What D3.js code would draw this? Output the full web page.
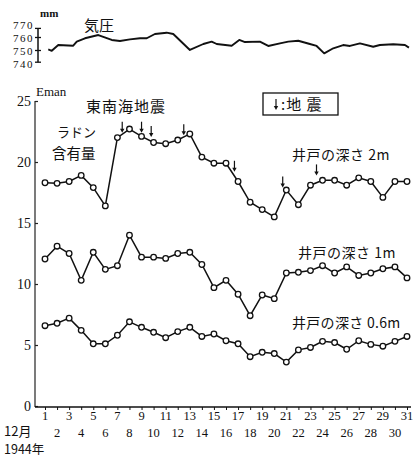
<!DOCTYPE html>
<html><head><meta charset="utf-8">
<script src="https://cdn.jsdelivr.net/npm/d3@7/dist/d3.min.js"></script>
<style>
body{margin:0;background:#fff;}
svg{display:block;}
</style></head>
<body>
<svg id="c" width="415" height="457"></svg>
<script>
const days = d3.range(1, 32);
const depth2m = [18.3,18.25,18.4,18.9,17.9,16.4,22.0,22.7,22.1,21.6,21.5,21.8,22.3,20.4,19.9,19.9,18.4,16.7,16.1,15.5,17.7,16.5,18.1,18.5,18.5,18.1,18.7,18.4,17.1,18.4,18.4];
const depth1m = [12.05,13.1,12.5,10.3,12.6,11.2,11.5,14.0,12.2,12.2,12.1,12.5,12.6,11.6,9.7,10.3,9.16,7.4,9.1,8.8,10.9,10.96,11.1,11.5,10.9,11.4,10.7,10.9,11.25,11.4,10.5];
const depth06m = [6.58,6.78,7.2,6.2,5.1,5.1,5.8,6.9,6.45,6.04,5.6,6.1,6.45,5.7,5.9,5.35,5.1,4.04,4.4,4.3,3.6,4.6,4.8,5.3,5.2,4.65,5.35,5.05,4.9,5.3,5.7];
const pressureDay = [1.27,1.56,2.10,3.34,3.63,4.31,5.42,6.53,7.21,8.04,8.87,9.43,10.11,11.08,11.63,13.01,14.12,14.81,15.23,16.47,17.10,17.57,18.81,19.5,20.47,21.16,21.99,22.95,23.51,24.14,24.89,25.71,26.27,27.1,28.2,28.75,29.86,30.83,31.16];
const pressureMm = [750.9,749.8,754.2,753.7,756.8,759.4,761.9,758.1,757.3,758.6,759.4,759.4,762.7,763.7,762.7,750.4,755,756.8,755,753.7,758.1,756.5,756.8,753.5,755.5,756.8,757.5,755,753.5,747.8,751.7,754.2,753.5,755.5,752.9,754.2,754.8,754.2,752.2];
const pressureTicks = [770,760,750,740];
const yTicks = [0,5,10,15,20,25];
const quakeDay = [7.4,9.0,9.8,12.5,16.7,20.7,23.5];
const quakeTip = [22.4,22.4,22.05,22.2,19.2,17.9,18.9];
const seriesLabels = ["井戸の深さ 2m","井戸の深さ 1m","井戸の深さ 0.6m"];

const SERIF = "Liberation Serif, DejaVu Serif, serif";
const JP = "Noto Sans CJK JP, Noto Sans CJK SC, sans-serif";

const svg = d3.select("#c");
const x = d3.scaleLinear().domain([1,31]).range([45,407]);
const y = d3.scaleLinear().domain([0,25]).range([406,101]);
const yp = d3.scaleLinear().domain([740,770]).range([63.5,24.5]);

function num(sel, size){ return sel.attr("font-family",SERIF).attr("font-size",size).attr("fill","#111"); }
function jp(sel, size){ return sel.attr("font-family",JP).attr("font-size",size).attr("fill","#111"); }

// pressure panel
svg.append("path").datum(pressureDay.map((d,i)=>[d,pressureMm[i]]))
  .attr("fill","none").attr("stroke","#111").attr("stroke-width",1.9).attr("stroke-linejoin","round")
  .attr("d", d3.line().x(d=>x(d[0])).y(d=>yp(d[1])));
const pa = svg.append("g");
pa.append("line").attr("x1",38).attr("x2",38).attr("y1",yp(767)).attr("y2",yp(741)).attr("stroke","#111").attr("stroke-width",1.5);
[767,760,750,741].forEach(v=>{
  pa.append("line").attr("x1",35).attr("x2",41).attr("y1",yp(v)).attr("y2",yp(v)).attr("stroke","#111").attr("stroke-width",1.3);
});
num(pa.selectAll("text.pt").data(pressureTicks).join("text")
  .attr("x",34).attr("y",d=>yp(d)+4).attr("text-anchor","end").attr("letter-spacing",1.5).text(d=>d), 11);
num(svg.append("text").attr("x",40).attr("y",17).attr("font-weight","bold").text("mm"), 11);
jp(svg.append("text").attr("x",84).attr("y",31).text("気圧"), 15);

// main axes
const gy = svg.append("g").attr("transform","translate(35,0)")
  .call(d3.axisLeft(y).tickValues(yTicks).tickSize(-3).tickPadding(4));
gy.select(".domain").attr("d","M0,"+y(25)+"V"+(y(0)+1)).attr("stroke","#222").attr("stroke-width",1.2);
gy.selectAll(".tick line").attr("stroke","#222").attr("stroke-width",1.2);
num(gy.selectAll("text"), 14);

const gx = svg.append("g").attr("transform","translate(0,"+(y(0)+1)+")")
  .call(d3.axisBottom(x).tickValues(days).tickSize(3).tickFormat(""));
gx.select(".domain").attr("d","M35,0H411").attr("stroke","#111").attr("stroke-width",1.5);
gx.selectAll(".tick line").attr("stroke","#111");
num(svg.selectAll("text.xl").data(days).join("text")
  .attr("x",d=>x(d)).attr("y",d=>d%2?420:437).attr("text-anchor","middle").text(d=>d), 12.5);
jp(svg.append("text").attr("x",4).attr("y",436).text("12月"), 13);
jp(svg.append("text").attr("x",4).attr("y",454).text("1944年"), 12.5);
num(svg.append("text").attr("x",36).attr("y",96).text("Eman"), 13);

// series
[depth2m, depth1m, depth06m].forEach(s=>{
  const pts = days.map((d,i)=>[d,s[i]]);
  svg.append("path").datum(pts).attr("fill","none").attr("stroke","#111").attr("stroke-width",1.5)
    .attr("d", d3.line().x(d=>x(d[0])).y(d=>y(d[1])));
  svg.append("g").selectAll("circle").data(pts).join("circle")
    .attr("cx",d=>x(d[0])).attr("cy",d=>y(d[1])).attr("r",2.8)
    .attr("fill","#fff").attr("stroke","#111").attr("stroke-width",1.3);
});

// earthquake arrows
function arrow(g, tx, ty){
  g.append("line").attr("x1",tx).attr("x2",tx).attr("y1",ty-11).attr("y2",ty-2).attr("stroke","#111").attr("stroke-width",1.2);
  g.append("path").attr("d",`M${tx-2.2},${ty-4}L${tx},${ty}L${tx+2.2},${ty-4}Z`).attr("fill","#111");
}
const ga = svg.append("g");
quakeDay.forEach((d,i)=> arrow(ga, x(d), y(quakeTip[i])));

// labels
jp(svg.append("text").attr("x",86).attr("y",112).attr("letter-spacing",1).text("東南海地震"), 15);
jp(svg.append("text").attr("x",57).attr("y",137).text("ラドン"), 13);
jp(svg.append("text").attr("x",52).attr("y",159).text("含有量"), 14.5);
jp(svg.append("text").attr("x",292).attr("y",160).attr("letter-spacing",0.5).text(seriesLabels[0]), 14);
jp(svg.append("text").attr("x",298).attr("y",258).attr("letter-spacing",0.5).text(seriesLabels[1]), 14);
jp(svg.append("text").attr("x",292).attr("y",328).attr("letter-spacing",0.3).text(seriesLabels[2]), 14);

// legend box
svg.append("rect").attr("x",263).attr("y",93).attr("width",75).attr("height",22).attr("fill","#fff").attr("stroke","#111").attr("stroke-width",1.3);
arrow(svg.append("g"), 276, 110);
jp(svg.append("text").attr("x",281).attr("y",110).attr("letter-spacing",1).text(":地 震"), 15);
</script>
</body></html>
